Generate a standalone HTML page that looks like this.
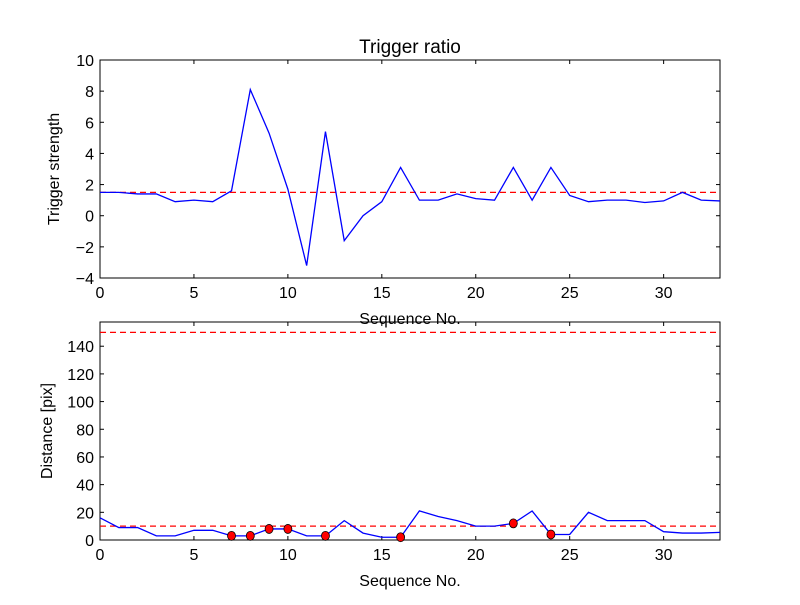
<!DOCTYPE html>
<html><head><meta charset="utf-8"><style>
body{margin:0;background:#fff;}
svg text{font-family:"Liberation Sans",sans-serif;}
</style></head><body>
<svg id="c" width="800" height="600" xmlns="http://www.w3.org/2000/svg"></svg>
<script>
const seq=[0,1,2,3,4,5,6,7,8,9,10,11,12,13,14,15,16,17,18,19,20,21,22,23,24,25,26,27,28,29,30,31,32,33];
const strength=[1.5,1.5,1.4,1.4,0.9,1.0,0.9,1.6,8.1,5.3,1.7,-3.2,5.4,-1.6,0.0,0.9,3.1,1.0,1.0,1.4,1.1,1.0,3.1,1.0,3.1,1.3,0.9,1.0,1.0,0.85,0.95,1.5,1.0,0.95];
const strengthThreshold=1.5;
const distance=[16,9,9,3,3,7,7,3,3,8,8,3,3,14,5,2,2,21,17,14,10,10,12,21,4,4,20,14,14,14,6,5,5,5.5];
const markIdx=[7,8,9,10,12,16,22,24];
const distLines=[10,150];
const xTicks=[0,5,10,15,20,25,30];
const yTicksTop=[-4,-2,0,2,4,6,8,10];
const yTicksBot=[0,20,40,60,80,100,120,140];
const NS="http://www.w3.org/2000/svg";
const svg=document.getElementById('c');
function mk(t,a,p){const e=document.createElementNS(NS,t);for(const k in a)e.setAttribute(k,a[k]);(p||svg).appendChild(e);return e;}
function panel(top,bot,ymin,ymax,yt,ylab,name){
  const L=100,R=720;
  const sx=v=>L+(v-0)/(33-0)*(R-L);
  const sy=v=>bot-(v-ymin)/(ymax-ymin)*(bot-top);
  const g=mk('g',{});
  
  
  xTicks.forEach(t=>{const x=sx(t);
    mk('line',{x1:x,x2:x,y1:bot,y2:bot-4,stroke:'#000'},g);mk('line',{x1:x,x2:x,y1:top,y2:top+4,stroke:'#000'},g);
    const tx=mk('text',{x:x,y:bot+20,'text-anchor':'middle','font-size':16},g);tx.textContent=t;
    });
  yt.forEach(t=>{const y=sy(t);
    mk('line',{x1:L,x2:L+4,y1:y,y2:y,stroke:'#000'},g);mk('line',{x1:R,x2:R-4,y1:y,y2:y,stroke:'#000'},g);
    const tx=mk('text',{x:L-6,y:y+6,'text-anchor':'end','font-size':16},g);tx.textContent=t.toString().replace('-','\u2212');
    });
  const xl=mk('text',{x:410,y:bot+46,'text-anchor':'middle','font-size':16},g);xl.textContent='Sequence No.';
  
  const yl=mk('text',{x:0,y:0,'text-anchor':'middle','font-size':16,transform:`translate(${name==='top-panel'?59:52},${(top+bot)/2}) rotate(-90)`},g);yl.textContent=ylab;
  
  return {sx,sy,g,L,R,top,bot};
}
function frame(p){const r=mk('rect',{x:p.L,y:p.top,width:p.R-p.L,height:p.bot-p.top,fill:'none',stroke:'#000','stroke-width':1},p.g);
  }
// top
const p1=panel(60,278,-4,10,yTicksTop,'Trigger strength','top-panel');
const t=mk('text',{x:410,y:53,'text-anchor':'middle','font-size':19});t.textContent='Trigger ratio';

const th=mk('line',{x1:p1.L,x2:p1.R,y1:p1.sy(strengthThreshold),y2:p1.sy(strengthThreshold),stroke:'red','stroke-dasharray':'6,4','stroke-width':1.3});

const l1=mk('polyline',{points:seq.map((s,i)=>p1.sx(s)+','+p1.sy(strength[i])).join(' '),fill:'none',stroke:'blue','stroke-width':1.3});

frame(p1);
// bottom
const p2=panel(322,540,0,157.5,yTicksBot,'Distance [pix]','bottom-panel');
distLines.forEach(v=>{const d=mk('line',{x1:p2.L,x2:p2.R,y1:p2.sy(v),y2:p2.sy(v),stroke:'red','stroke-dasharray':'6,4','stroke-width':1.3});
  });
const l2=mk('polyline',{points:seq.map((s,i)=>p2.sx(s)+','+p2.sy(distance[i])).join(' '),fill:'none',stroke:'blue','stroke-width':1.3});

markIdx.forEach(i=>{const c=mk('ellipse',{cx:p2.sx(seq[i]),cy:p2.sy(distance[i]),rx:4,ry:4.5,fill:'red',stroke:'#000','stroke-width':0.8});
  });
frame(p2);
</script>
</body></html>
